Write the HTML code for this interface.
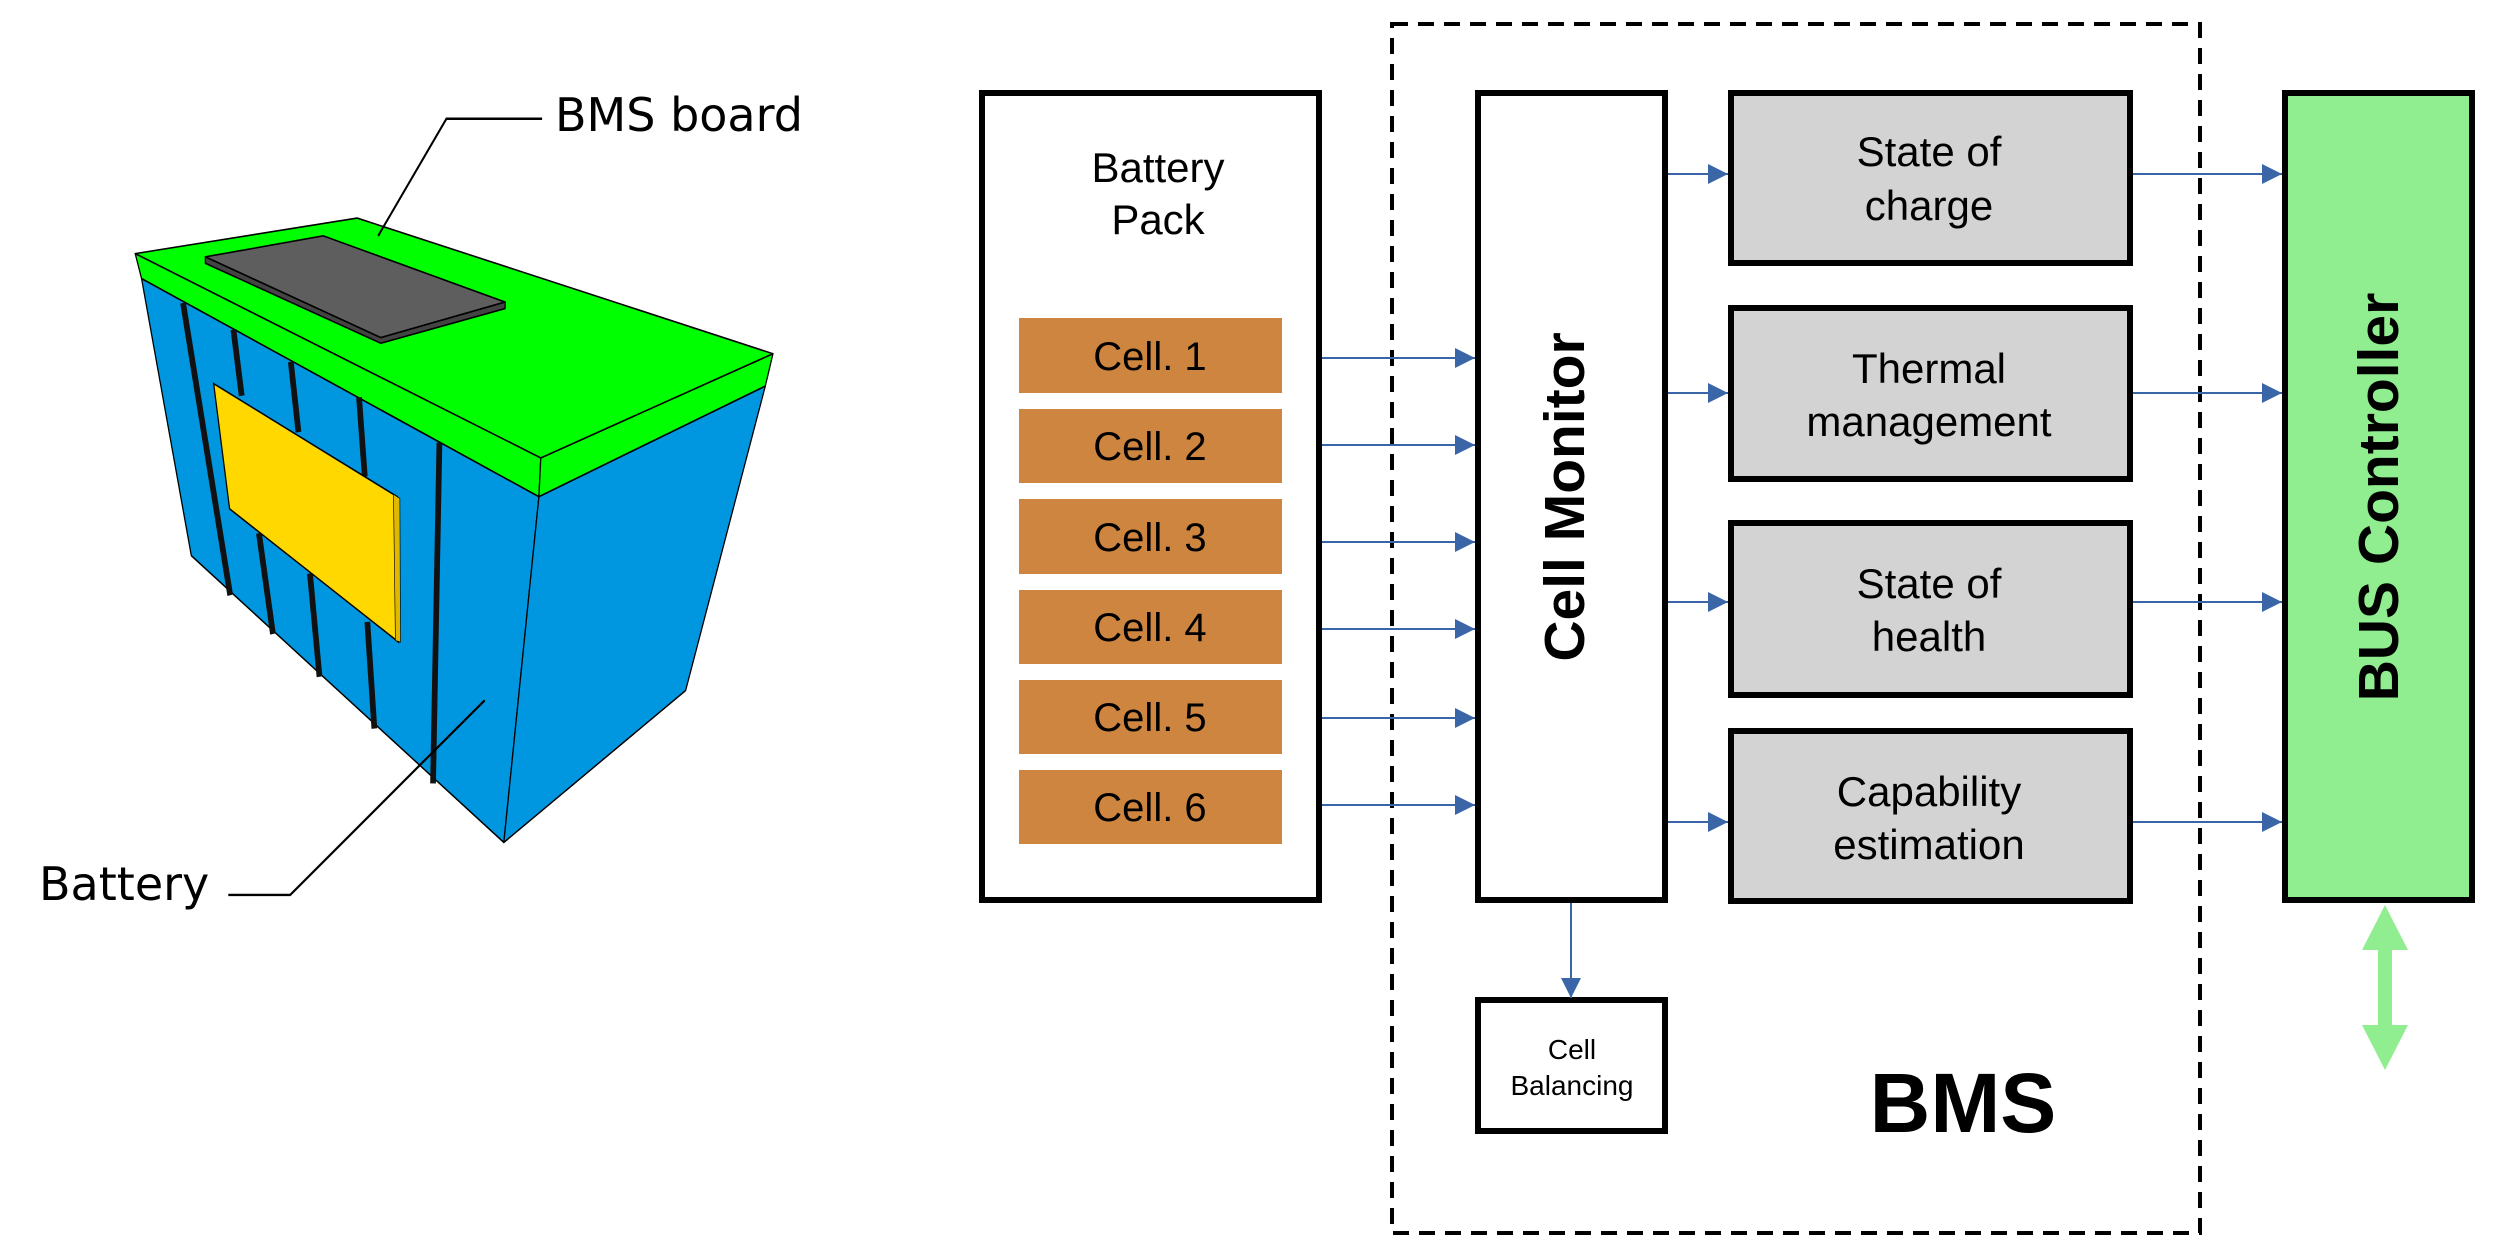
<!DOCTYPE html>
<html><head><meta charset="utf-8"><style>
body{margin:0;background:#fff;}
#w{position:relative;width:2520px;height:1260px;overflow:hidden;background:#fff;}
.t{position:absolute;font-family:"DejaVu Sans",sans-serif;color:#000;white-space:nowrap;}
</style></head><body><div id="w">
<svg style="position:absolute;left:0;top:0" width="1000" height="1260" viewBox="0 0 1568 1560" preserveAspectRatio="none">
<g stroke="#000" stroke-width="2" stroke-linejoin="round">
<polygon points="212,314 560,270 1212,438 848,567" fill="#00ff00"/>
<polygon points="212,314 848,567 845,615 222,345" fill="#00ff00"/>
<polygon points="848,567 1212,438 1200,478 845,615" fill="#00ff00"/>
<polygon points="222,345 845,615 790,1043 300,688" fill="#0097e0"/>
<polygon points="845,615 1200,478 1075,855 790,1043" fill="#0097e0"/>
<polygon points="322,318 507,292 792,374 597,418" fill="#5e5e5e"/>
<polygon points="322,318 597,418 792,374 792,382 597,425 322,326" fill="#444"/>
</g>
<g stroke="#111" stroke-width="9" stroke-linecap="butt">
<line x1="287" y1="375" x2="361" y2="737"/>
<line x1="366" y1="408" x2="379" y2="490"/>
<line x1="406" y1="660" x2="428" y2="785"/>
<line x1="456" y1="448" x2="468" y2="535"/>
<line x1="486" y1="710" x2="501" y2="838"/>
<line x1="563" y1="492" x2="572" y2="590"/>
<line x1="576" y1="770" x2="587" y2="902"/>
<line x1="689" y1="548" x2="679" y2="970"/>
</g>
<polygon points="335,475 623,615 625,795 360,630" fill="#ffd800" stroke="#000" stroke-width="2"/>
<polygon points="617,612 627,617 628,795 620,793" fill="#e0b800" stroke="#000" stroke-width="1"/>
<g stroke="#000" stroke-width="3" fill="none">
<polyline points="593,292 700,147 850,147"/>
<polyline points="760,867 455,1108 358,1108"/>
</g>
</svg>
<div class="t" style="left:555px;top:88px;font-size:46px;">BMS board</div>
<div class="t" style="left:39px;top:857px;font-size:46px;">Battery</div>

<svg style="position:absolute;left:0;top:0" width="2520" height="1260">
<defs>
<marker id="b" viewBox="0 0 10 10" refX="10" refY="5" markerWidth="20" markerHeight="20" orient="auto" markerUnits="userSpaceOnUse"><path d="M0,0 L10,5 L0,10z" fill="#3a66a8"/></marker></defs>
<rect x="1392" y="24" width="808" height="1209" fill="none" stroke="#000" stroke-width="4" stroke-dasharray="16,10"/>
<rect x="982" y="93" width="337" height="807" fill="#fff" stroke="#000" stroke-width="6"/>
<g fill="#cd853f">
<rect x="1019" y="318" width="263" height="75"/><rect x="1019" y="409" width="263" height="74"/>
<rect x="1019" y="499" width="263" height="75"/><rect x="1019" y="590" width="263" height="74"/>
<rect x="1019" y="680" width="263" height="74"/><rect x="1019" y="770" width="263" height="74"/>
</g>
<rect x="1478" y="93" width="187" height="807" fill="#fff" stroke="#000" stroke-width="6"/>
<g fill="#d3d3d3" stroke="#000" stroke-width="6">
<rect x="1731" y="93" width="399" height="170"/><rect x="1731" y="308" width="399" height="171"/>
<rect x="1731" y="523" width="399" height="172"/><rect x="1731" y="731" width="399" height="170"/>
</g>
<rect x="2285" y="93" width="187" height="807" fill="#90ee90" stroke="#000" stroke-width="6"/>
<rect x="1478" y="1000" width="187" height="131" fill="#fff" stroke="#000" stroke-width="6"/>
<g stroke="#3a66a8" stroke-width="2" marker-end="url(#b)">
<line x1="1322" y1="358" x2="1475" y2="358"/><line x1="1322" y1="445" x2="1475" y2="445"/>
<line x1="1322" y1="542" x2="1475" y2="542"/><line x1="1322" y1="629" x2="1475" y2="629"/>
<line x1="1322" y1="718" x2="1475" y2="718"/><line x1="1322" y1="805" x2="1475" y2="805"/>
<line x1="1668" y1="174" x2="1728" y2="174"/><line x1="1668" y1="393" x2="1728" y2="393"/>
<line x1="1668" y1="602" x2="1728" y2="602"/><line x1="1668" y1="822" x2="1728" y2="822"/>
<line x1="2133" y1="174" x2="2282" y2="174"/><line x1="2133" y1="393" x2="2282" y2="393"/>
<line x1="2133" y1="602" x2="2282" y2="602"/><line x1="2133" y1="822" x2="2282" y2="822"/>
<line x1="1571" y1="903" x2="1571" y2="998"/>
</g>
<polygon points="2385,905 2408,950 2392,950 2392,1025 2408,1025 2385,1070 2362,1025 2378,1025 2378,950 2362,950" fill="#90ee90"/>
<g font-family="Liberation Sans,Arial,sans-serif" text-anchor="middle" fill="#000">
<text x="1158" y="182" font-size="42">Battery</text><text x="1158" y="234" font-size="42">Pack</text>
<g font-size="40"><text x="1150" y="370">Cell. 1</text><text x="1150" y="460">Cell. 2</text><text x="1150" y="551">Cell. 3</text><text x="1150" y="641">Cell. 4</text><text x="1150" y="731">Cell. 5</text><text x="1150" y="821">Cell. 6</text></g>
<g font-size="42">
<text x="1929" y="166">State of</text><text x="1929" y="220">charge</text>
<text x="1929" y="383">Thermal</text><text x="1929" y="436">management</text>
<text x="1929" y="598">State of</text><text x="1929" y="651">health</text>
<text x="1929" y="806">Capability</text><text x="1929" y="859">estimation</text>
</g>
<text x="1572" y="1059" font-size="28">Cell</text><text x="1572" y="1095" font-size="28">Balancing</text>
<text x="1963" y="1132" font-size="84" font-weight="bold">BMS</text>
<text transform="translate(1584,497) rotate(-90)" font-size="57" font-weight="bold">Cell Monitor</text>
<text transform="translate(2398,497) rotate(-90)" font-size="57" font-weight="bold">BUS Controller</text>
</g>
</svg>
</div></body></html>
